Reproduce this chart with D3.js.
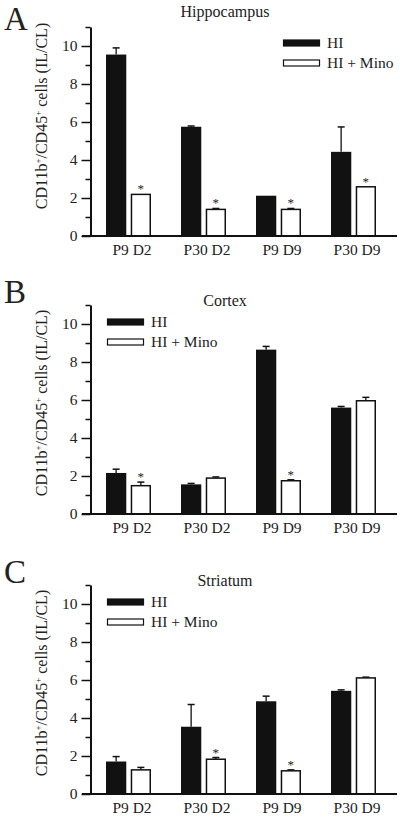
<!DOCTYPE html>
<html><head><meta charset="utf-8">
<script src="https://cdn.jsdelivr.net/npm/d3@7"></script>
<style>body{margin:0;background:#fff}svg{display:block}text{font-family:"Liberation Serif","Times New Roman",serif;fill:#222}.star{opacity:0.99;-webkit-font-smoothing:antialiased}</style>
</head><body>
<script>
// ---- data ----
const categories = ["P9 D2", "P30 D2", "P9 D9", "P30 D9"];
const seriesNames = ["HI", "HI + Mino"];
const panelLetters = ["A", "B", "C"];
const panelTitles = ["Hippocampus", "Cortex", "Striatum"];
const yMajorTicks = [0, 2, 4, 6, 8, 10];
const yMinorTicks = [1, 3, 5, 7, 9, 11];

// Hippocampus
const hiA = [9.55, 5.75, 2.12, 4.43];
const hiSemA = [0.35, 0.04, 0, 1.31];
const minoA = [2.19, 1.40, 1.40, 2.59];
const minoSemA = [0, 0.05, 0.05, 0];
const sigA = [true, true, true, true];
// Cortex
const hiB = [2.16, 1.56, 8.65, 5.60];
const hiSemB = [0.20, 0.05, 0.17, 0.06];
const minoB = [1.49, 1.89, 1.75, 5.96];
const minoSemB = [0.19, 0.06, 0.05, 0.18];
const sigB = [true, false, true, false];
// Striatum
const hiC = [1.71, 3.54, 4.88, 5.43];
const hiSemC = [0.26, 1.17, 0.27, 0.05];
const minoC = [1.27, 1.83, 1.22, 6.11];
const minoSemC = [0.13, 0.09, 0.05, 0.04];
const sigC = [false, true, true, false];

const panels = [
  {hi: hiA, hiSem: hiSemA, mino: minoA, minoSem: minoSemA, sig: sigA},
  {hi: hiB, hiSem: hiSemB, mino: minoB, minoSem: minoSemB, sig: sigB},
  {hi: hiC, hiSem: hiSemC, mino: minoC, minoSem: minoSemC, sig: sigC}
];

// ---- layout ----
const W = 400, H = 817;
const layout = [
  {top: 27, letterY: 30, titleY: 17, legX: 283, legY: 13, labelY: 89},
  {top: 305, letterY: 303, titleY: 306, legX: 107, legY: 14, labelY: 98},
  {top: 585, letterY: 583, titleY: 586, legX: 107, legY: 14, labelY: 98}
];
const plotH = 209;
const axisX = 90.5;

const svg = d3.select("body").append("svg").attr("width", W).attr("height", H);

const x0 = d3.scaleBand().domain(categories).range([axisX, axisX + 300]).padding(0);
const x1 = d3.scaleBand().domain(seriesNames).range([15.5, 60.5]).paddingInner(0.18);

panels.forEach((p, i) => {
  const L = layout[i];
  const g = svg.append("g");
  const y = d3.scaleLinear().domain([0, 11]).range([L.top + plotH, L.top]);

  g.append("text").attr("x", 4).attr("y", L.letterY).style("font-size", "33px").attr("fill", "#111").text(panelLetters[i]);
  g.append("text").attr("x", 225).attr("y", L.titleY).attr("text-anchor", "middle").style("font-size", "16px").text(panelTitles[i]);

  const lab = g.append("text")
    .attr("transform", `translate(47,${L.top + L.labelY}) rotate(-90)`)
    .attr("text-anchor", "middle").style("font-size", "16px");
  lab.append("tspan").text("CD11b");
  lab.append("tspan").attr("dy", -6).style("font-size", "9px").text("+");
  lab.append("tspan").attr("dy", 6).text("/CD45");
  lab.append("tspan").attr("dy", -6).style("font-size", "9px").text("+");
  lab.append("tspan").attr("dy", 6).text(" cells (IL/CL)");

  const rows = categories.map((c, k) => ({
    cat: c,
    vals: [
      {s: seriesNames[0], v: p.hi[k], e: p.hiSem[k], sig: false},
      {s: seriesNames[1], v: p.mino[k], e: p.minoSem[k], sig: p.sig[k]}
    ]
  }));
  const grp = g.selectAll(".grp").data(rows).join("g")
    .attr("transform", d => `translate(${x0(d.cat)},0)`);

  const eb = grp.selectAll(".eb").data(d => d.vals.filter(v => v.e > 0)).join("g");
  eb.append("line")
    .attr("x1", d => x1(d.s) + x1.bandwidth() / 2).attr("x2", d => x1(d.s) + x1.bandwidth() / 2)
    .attr("y1", d => y(d.v)).attr("y2", d => y(d.v + d.e))
    .attr("stroke", "#111").attr("stroke-width", 1.3);
  eb.append("line")
    .attr("x1", d => x1(d.s) + x1.bandwidth() / 2 - 3.5).attr("x2", d => x1(d.s) + x1.bandwidth() / 2 + 3.5)
    .attr("y1", d => y(d.v + d.e)).attr("y2", d => y(d.v + d.e))
    .attr("stroke", "#111").attr("stroke-width", 1.5);

  grp.selectAll("rect").data(d => d.vals).join("rect")
    .attr("x", d => x1(d.s) + (d.s === seriesNames[1] ? 0.75 : 0))
    .attr("width", d => x1.bandwidth() - (d.s === seriesNames[1] ? 1.5 : 0))
    .attr("y", d => y(d.v))
    .attr("height", d => y(0) - y(d.v))
    .attr("fill", d => d.s === seriesNames[0] ? "#111" : "#fff")
    .attr("stroke", d => d.s === seriesNames[0] ? "none" : "#111")
    .attr("stroke-width", 1.5);

  grp.selectAll(".star").data(d => d.vals.filter(v => v.sig)).join("text")
    .attr("class", "star")
    .attr("x", d => x1(d.s) + x1.bandwidth() / 2)
    .attr("y", d => y(d.v + d.e) - 1)
    .attr("text-anchor", "middle").attr("fill", "#111").style("font-size", "13px").text("*");

  const yMaj = d3.axisLeft(y).tickValues(yMajorTicks).tickSize(9).tickSizeOuter(0).tickPadding(4);
  const ya = g.append("g").attr("transform", `translate(${axisX},0)`).call(yMaj);
  ya.select(".domain").attr("stroke", "#111").attr("stroke-width", 2);
  ya.selectAll(".tick line").attr("stroke", "#111").attr("stroke-width", 1.5);
  ya.selectAll(".tick text").style("font-size", "15.5px").attr("fill", "#333").style("font-family", '"Liberation Serif",serif');
  const yMin = d3.axisLeft(y).tickValues(yMinorTicks).tickSize(5).tickSizeOuter(0).tickFormat("");
  const ym = g.append("g").attr("transform", `translate(${axisX},0)`).call(yMin);
  ym.select(".domain").remove();
  ym.selectAll(".tick line").attr("stroke", "#111").attr("stroke-width", 1.5);

  g.append("line").attr("x1", 82).attr("x2", 397).attr("y1", y(0)).attr("y2", y(0))
    .attr("stroke", "#111").attr("stroke-width", 2);
  const xa = g.append("g").attr("transform", `translate(4,${y(0)})`)
    .call(d3.axisBottom(x0).tickSize(0).tickPadding(8));
  xa.select(".domain").remove();
  xa.selectAll(".tick text").style("font-size", "15.5px").attr("fill", "#222").style("font-family", '"Liberation Serif",serif');

  const leg = g.append("g").attr("transform", `translate(${L.legX},${L.top + L.legY})`);
  seriesNames.forEach((s, k) => {
    leg.append("rect").attr("x", 0.5).attr("y", k * 20).attr("width", 36).attr("height", 6)
      .attr("fill", k === 0 ? "#111" : "#fff").attr("stroke", "#111").attr("stroke-width", 1.2);
    leg.append("text").attr("x", 44).attr("y", k * 20 + 8).style("font-size", "15.5px").text(s);
  });
});
</script>
</body></html>
